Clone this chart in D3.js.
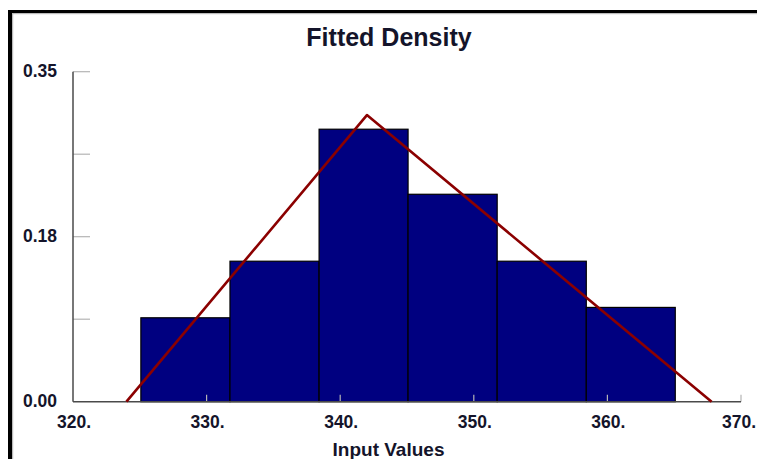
<!DOCTYPE html>
<html>
<head>
<meta charset="utf-8">
<script src="https://cdn.jsdelivr.net/npm/d3@7/dist/d3.min.js"></script>
<style>
    html, body { margin: 0; padding: 0; background: #fff; }
    #chart { width: 757px; height: 459px; }
    text { font-family: "Liberation Sans", Arial, sans-serif; font-weight: bold; fill: #14142a; }
</style>
</head>
<body>
<div id="chart"></div>
<script>
//Datos
const binEdges = [325.08, 331.75, 338.42, 345.08, 351.75, 358.42, 365.08];
const densities = [0.089, 0.149, 0.289, 0.220, 0.149, 0.100];
//Ajuste triangular: mínimo, moda, máximo
const fitX = [324.0, 342.0, 367.8];
const fitY = [0, 0.304, 0];
const xTicks = [320, 330, 340, 350, 360, 370];
const yTicks = [0, 0.0875, 0.175, 0.2625, 0.35];
const yLabels = ['0.00', '', '0.18', '', '0.35'];

const W = 757, H = 459;

let svg = d3.select('#chart').append('svg')
    .attr('width', W)
    .attr('height', H);

//Marco
svg.append('rect').attr('x', 12).attr('y', 13).attr('width', W).attr('height', 1.2).attr('fill', '#bbb');
svg.append('rect').attr('x', 12).attr('y', 13).attr('width', 1.2).attr('height', H).attr('fill', '#bbb');
svg.append('rect').attr('x', 8).attr('y', 10).attr('width', W).attr('height', 3).attr('fill', '#000');
svg.append('rect').attr('x', 8).attr('y', 10).attr('width', 4).attr('height', H).attr('fill', '#000');

let x = d3.scaleLinear().domain([320, 370]).range([73, 741]);
let y = d3.scaleLinear().domain([0, 0.35]).range([401.7, 71.7]);

//Título
svg.append('text')
    .attr('x', 389).attr('y', 46)
    .attr('text-anchor', 'middle')
    .style('font-size', '25px')
    .text('Fitted Density');

//Barras
let bins = densities.map(function(d, i) { return {x0: binEdges[i], x1: binEdges[i + 1], v: d}; });
svg.selectAll('.bar')
    .data(bins)
    .enter()
    .append('rect')
    .attr('class', 'bar')
    .attr('x', function(d) { return x(d.x0); })
    .attr('y', function(d) { return y(d.v); })
    .attr('width', function(d) { return x(d.x1) - x(d.x0); })
    .attr('height', function(d) { return y(0) - y(d.v); })
    .attr('fill', '#000080')
    .attr('stroke', '#000')
    .attr('stroke-width', 1.2);

//Ticks eje Y (hacia dentro)
svg.selectAll('.ytick')
    .data(yTicks.filter(function(d) { return d > 0; }))
    .enter()
    .append('line')
    .attr('x1', 73).attr('x2', 90)
    .attr('y1', function(d) { return y(d); })
    .attr('y2', function(d) { return y(d); })
    .attr('stroke', '#b4b4b4')
    .attr('stroke-width', 1.2);

//Ticks eje X (hacia arriba)
svg.selectAll('.xtick')
    .data(xTicks.slice(1))
    .enter()
    .append('line')
    .attr('x1', function(d) { return x(d); })
    .attr('x2', function(d) { return x(d); })
    .attr('y1', y(0)).attr('y2', y(0) - 7)
    .attr('stroke', '#b4b4b4')
    .attr('stroke-width', 1.2);

//Ejes
svg.append('line')
    .attr('x1', x(320)).attr('x2', x(320))
    .attr('y1', y(0.35)).attr('y2', y(0))
    .attr('stroke', '#4a4a4a').attr('stroke-width', 1.5);
svg.append('line')
    .attr('x1', x(320)).attr('x2', x(370))
    .attr('y1', y(0)).attr('y2', y(0))
    .attr('stroke', '#4a4a4a').attr('stroke-width', 1.5);

//Curva ajustada
let line = d3.line()
    .x(function(d) { return x(d[0]); })
    .y(function(d) { return y(d[1]); });
svg.append('path')
    .datum(fitX.map(function(d, i) { return [d, fitY[i]]; }))
    .attr('d', line)
    .attr('fill', 'none')
    .attr('stroke', '#8b0000')
    .attr('stroke-width', 2.6)
    .attr('stroke-linejoin', 'round');

//Etiquetas
svg.selectAll('.xlabel')
    .data(xTicks)
    .enter()
    .append('text')
    .attr('x', function(d, i) { return i === xTicks.length - 1 ? W - 1 : x(d) + 1; })
    .attr('y', 428)
    .attr('text-anchor', function(d, i) { return i === xTicks.length - 1 ? 'end' : 'middle'; })
    .style('font-size', '17.5px')
    .text(function(d) { return d + '.'; });

svg.selectAll('.ylabel')
    .data(yTicks)
    .enter()
    .append('text')
    .attr('x', 57)
    .attr('y', function(d) { return y(d) + 5.5; })
    .attr('text-anchor', 'end')
    .style('font-size', '17.5px')
    .text(function(d, i) { return yLabels[i]; });

svg.append('text')
    .attr('x', 388.5).attr('y', 456)
    .attr('text-anchor', 'middle')
    .style('font-size', '19px')
    .text('Input Values');
</script>
</body>
</html>
